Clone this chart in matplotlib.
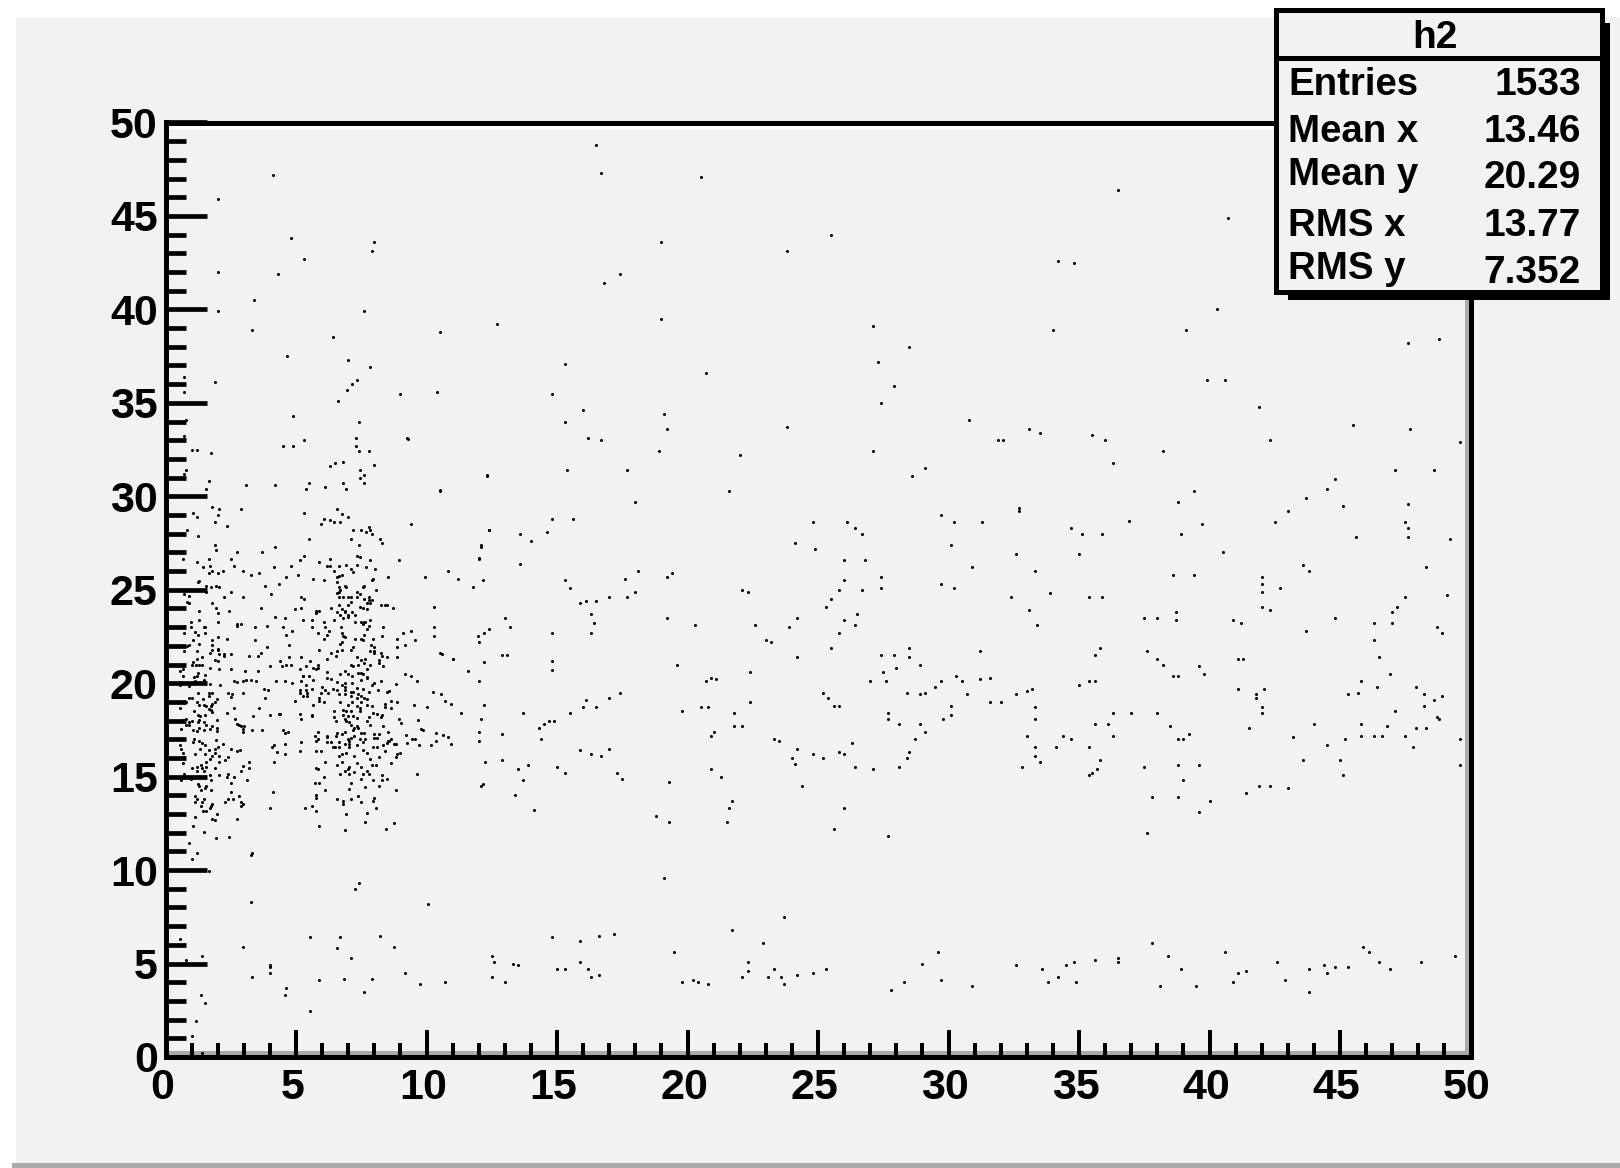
import matplotlib
matplotlib.use('Agg')
import matplotlib.pyplot as plt
from matplotlib.patches import Rectangle
from matplotlib.transforms import ScaledTranslation

# scatter points, grouped by region (x, y)
points_high = [
    (13.2,49.9),(16.5,48.8),(16.7,47.3),(20.5,47.1),(36.5,46.4),(40.7,44.9),(25.5,44.0),(19.0,43.6),(23.8,43.1),
    (34.2,42.6),(34.8,42.5),(17.4,41.9),(16.8,41.4),(40.3,40.0),(19.0,39.5),(12.7,39.2),(27.1,39.1),(39.1,38.9),
    (34.0,38.9),(10.5,38.8),(47.6,38.2),(48.8,38.4),(28.5,38.0),(15.3,37.1),(27.3,37.2),(20.7,36.6),(27.9,35.9),
    (39.9,36.2),(40.6,36.2),(27.4,35.0),(14.8,35.5),(10.4,35.6),(16.0,34.6),(41.9,34.8),(19.1,34.4),(15.3,34.0),
    (19.2,33.6),(23.8,33.7),(47.7,33.6),(45.5,33.8),(33.1,33.6),(33.5,33.4),(30.8,34.1),(31.9,33.0),(32.1,33.0),
    (35.5,33.3),(36.0,33.0),(16.2,33.1),(16.7,33.0),(42.3,33.0),(49.6,32.9),(18.9,32.4),(27.1,32.4),(22.0,32.2),
    (38.2,32.4),(36.3,31.8),(15.4,31.4),(17.7,31.4),(12.3,31.1),(28.6,31.1),(29.1,31.5),(47.1,31.4),(48.6,31.4),
    (44.8,30.9),(21.6,30.3),(10.5,30.3),(39.4,30.3),(44.5,30.4),(43.7,29.9),(38.8,29.7),(47.6,29.6),(18.0,29.7),
    (32.7,29.4),(32.7,29.2),(45.1,29.5),(29.7,29.0),(43.0,29.2),(30.2,28.6),(47.5,28.6),(47.6,28.3),(14.8,28.8),
    (15.6,28.8),(36.9,28.7),(42.5,28.6),(24.8,28.6),(26.1,28.6),(26.4,28.3),(26.7,28.0),(31.3,28.6),(39.7,28.5),
    (38.9,28.0),(34.7,28.3),(35.1,28.0),(35.9,28.0),(12.4,28.2),(13.6,28.0),(14.0,27.6),(14.6,28.1),(45.6,27.8),
    (47.6,27.8),(49.2,27.7),(30.1,27.4),(24.1,27.5),(24.9,27.2),(40.5,27.0),(35.0,26.9),(32.6,26.9),(26.0,26.6),
    (26.8,26.6),(12.1,27.4),(12.0,26.7),(13.6,26.4),(30.9,26.2),(33.3,26.0),(43.6,26.3),(43.8,26.0),(48.3,26.2),
    (18.1,26.0),(17.6,25.6),(19.4,25.9),(19.2,25.7),(39.4,25.8),(38.6,25.8),(42.0,25.7),(42.0,25.3),(15.3,25.5),
    (15.5,25.1),(29.7,25.3),(30.2,25.1),(35.4,24.6),(35.9,24.6),(27.4,25.7),(27.4,25.1),(22.1,25.0),(22.3,24.9),
    (42.0,24.9),(42.7,25.1),(26.0,25.5),(25.8,25.0),(26.7,25.0),(33.9,24.8),(32.4,24.6),(49.1,24.7),(50.0,24.5),
    (15.9,24.3),(16.1,24.4),(16.5,24.4),(17.0,24.6),(17.7,24.6),(18.0,24.9),(47.5,24.6),(47.2,24.1),(47.0,23.8),
    (25.5,24.5),(25.3,24.1),(33.1,23.9),(42.0,24.1),(42.3,23.9),(16.3,23.7),(16.4,23.2),(38.7,23.8),(38.7,23.4),
    (38.0,23.5),(26.5,23.7),(26.4,23.1),(24.2,23.5),(23.9,23.0),(22.6,23.1),(44.8,23.5),(46.3,23.2),(47.0,23.2),
    (37.5,23.5),(40.9,23.4),(41.2,23.2),(43.7,22.8),(48.7,23.0),(48.9,22.7),(16.3,22.7),(26.0,23.4),(25.8,22.7),
    (20.3,23.1),(19.2,23.5),(13.0,23.5),(13.2,23.0),(12.2,22.7),(12.0,22.2),(14.8,22.7),(33.4,23.1),(23.0,22.3),
    (23.2,22.2),(46.3,22.3),(46.5,21.4),(35.8,21.9),(35.6,21.5),(25.5,21.9),(28.5,21.9),(27.9,21.5),(27.4,21.5),
    (28.5,21.4),(37.6,21.7),(38.0,21.3),(38.2,21.0),(41.1,21.3),(41.3,21.3),(31.2,21.7),(12.9,21.5),(13.1,21.5),
    (10.5,21.6),(11.0,21.3),(14.8,21.2),(14.8,20.7),(24.2,21.4),
    (4.1,47.2),(2.0,45.9),(4.8,43.8),(5.3,42.7),(8.0,43.6),(7.9,43.1),(2.0,42.0),(4.3,41.9),(3.4,40.5),(2.0,39.9),
    (7.6,39.9),(3.3,38.9),(6.4,38.5),(4.65,37.5),(7.0,37.3),(7.85,36.9),(7.35,36.2),(7.15,36.0),(6.95,35.7),
    (6.6,35.1),(9.0,35.5),(1.9,36.1),(0.7,36.4),(0.7,35.6),(4.9,34.3),(7.4,34.0),(0.8,34.1),(9.25,33.1),
]

points_mid = [
    (19.6,21.0),(28.9,21.0),(28.0,20.8),(39.6,20.9),(39.8,20.5),(38.6,20.4),(38.8,20.4),(22.4,20.6),(31.6,20.3),
    (31.2,20.2),(30.3,20.4),(30.5,20.1),(20.7,20.1),(20.9,20.3),(21.1,20.2),(27.5,20.6),(27.6,20.1),(27.0,20.1),
    (46.9,20.5),(45.8,20.1),(45.7,19.5),(46.4,19.8),(41.1,19.7),(42.1,19.7),(41.8,19.4),(35.6,20.1),(35.4,20.1),
    (35.0,19.9),(29.7,20.1),(29.1,19.5),(29.5,19.8),(33.2,19.7),(33.0,19.6),(32.6,19.4),(31.6,19.0),(32.0,19.0),
    (30.7,19.4),(28.4,19.5),(28.9,19.4),(25.2,19.5),(25.4,19.2),(25.6,18.8),(25.8,18.8),(47.9,19.8),(48.2,19.4),
    (48.6,19.1),(48.9,19.3),(48.2,18.8),(48.7,18.2),(48.8,18.1),(47.9,17.6),(48.3,17.6),(47.1,18.5),(47.5,17.2),
    (47.8,16.6),(45.3,19.4),(45.8,17.8),(46.3,17.2),(45.8,17.2),(46.6,17.2),(46.8,17.7),(45.2,17.0),(45.0,15.9),
    (45.1,15.1),(44.0,17.8),(44.5,16.7),(41.8,19.2),(42.0,18.7),(42.0,18.4),(41.5,17.6),(43.2,17.1),(43.6,15.9),
    (41.4,14.1),(41.9,14.5),(42.3,14.5),(43.0,14.4),(37.0,18.4),(36.3,18.4),(36.1,17.8),(36.3,17.2),(35.6,17.8),
    (38.0,18.4),(38.5,17.7),(38.8,17.0),(39.0,17.0),(39.2,17.3),(33.3,18.7),(33.3,18.1),(33.0,17.2),(33.3,16.6),
    (34.4,17.2),(34.7,17.0),(34.1,16.6),(33.5,15.8),(32.8,15.5),(33.3,16.1),(35.4,15.1),(35.5,15.2),(35.7,15.4),
    (35.8,15.9),(35.4,16.6),(37.5,15.5),(38.8,15.6),(39.6,15.6),(39.0,14.8),(38.8,13.9),(39.6,13.1),(40.0,13.7),
    (37.8,13.9),(37.6,12.0),(30.1,18.8),(30.1,18.3),(29.8,18.1),(28.9,17.8),(29.1,17.4),(28.7,17.0),(27.7,18.4),
    (28.1,17.8),(27.7,18.1),(28.5,16.3),(28.4,16.0),(28.1,15.5),(27.1,15.4),(26.3,16.8),(26.0,16.2),(26.4,15.5),
    (25.2,16.0),(24.8,16.2),(25.8,16.3),(24.2,16.5),(24.0,16.0),(24.1,15.7),(24.4,14.5),(23.3,17.0),(23.5,16.9),
    (25.6,12.2),(26.0,13.3),(27.7,11.8),(21.8,18.4),(22.4,19.0),(21.8,17.7),(22.1,17.7),(20.5,18.7),(20.8,18.7),
    (21.0,17.4),(20.9,17.2),(19.8,18.5),(19.3,14.7),(20.9,15.4),(21.3,15.0),(21.7,13.7),(21.6,13.3),(21.5,12.6),
    (18.8,12.9),(19.3,12.6),(19.1,9.6),(17.4,19.5),(17.0,19.2),(16.5,18.7),(17.0,16.5),(16.7,16.1),(15.9,16.4),
    (16.3,16.2),(17.3,15.2),(17.5,14.9),(15.0,15.5),(15.3,15.2),(16.0,18.7),(15.5,18.4),(16.1,19.1),(14.7,18.0),
    (14.5,17.8),(14.3,17.6),(14.4,17.0),(14.9,18.0),(13.7,18.4),(13.9,15.6),(13.5,15.4),(13.4,14.0),(14.1,13.2),
    (13.7,14.8),(12.1,18.1),(12.0,17.4),(12.9,17.3),(12.9,15.9),(12.1,14.5),(49.6,17.0),(49.6,15.6),
]

points_low = [
    (21.7,6.8),(23.7,7.5),(22.9,6.1),(19.5,5.6),(37.8,6.1),(38.4,5.4),(40.6,5.6),(45.9,5.9),(46.1,5.6),(46.5,5.1),
    (46.9,4.7),(29.6,5.6),(29.0,5.0),(14.8,6.4),(15.9,6.2),(16.6,6.5),(17.2,6.6),(12.5,5.4),(12.6,5.1),(13.3,5.0),
    (13.5,4.9),(12.5,4.3),(13.0,4.0),(15.0,4.7),(15.3,4.7),(15.9,5.1),(16.2,4.7),(16.3,4.3),(16.6,4.4),(19.8,4.0),
    (20.2,4.1),(20.4,4.0),(20.8,3.9),(22.3,5.1),(22.1,4.3),(22.3,4.6),(23.1,4.3),(23.3,4.7),(23.6,4.3),(23.7,3.9),
    (24.2,4.4),(24.8,4.5),(25.3,4.7),(27.8,3.6),(28.3,4.0),(29.7,4.1),(30.9,3.8),(32.6,4.9),(33.6,4.7),(33.8,4.0),
    (34.2,4.3),(34.5,4.9),(34.8,5.1),(34.9,4.0),(35.6,5.2),(36.5,5.3),(36.5,5.1),(38.1,3.8),(38.9,4.7),(39.5,3.8),
    (40.9,4.0),(41.1,4.5),(41.4,4.6),(42.6,5.1),(42.9,4.1),(43.8,4.7),(43.8,3.5),(44.4,4.9),(44.5,4.5),(44.8,4.8),
    (45.3,4.8),(48.1,5.1),(49.4,5.4),(7.4,9.3),(7.26,9.0),(3.27,10.8),(3.26,8.3),(10.05,8.2),(0.55,6.3),(0.79,5.2),
    (1.4,5.4),(2.96,5.9),(5.55,6.4),(6.7,6.4),(6.58,5.85),(7.1,5.3),(8.2,6.45),(8.76,5.9),(4.0,4.9),(4.0,4.8),
    (4.0,4.5),(3.3,4.3),(5.9,4.1),(6.85,4.2),(7.9,4.2),(4.6,3.7),(4.57,3.3),(7.6,3.5),(5.55,2.45),(1.35,3.3),
    (1.5,2.9),(1.15,1.9),(1.0,1.15),(1.4,0.2),(9.16,4.5),(9.75,3.9),(10.7,4.0),
    (1.93,11.7),(2.44,11.78),(0.89,11.47),(1.19,10.9),(3.31,10.9),(1.01,10.58),(1.65,9.94),
]

# dense cloud at small x, upper half (y about 20 to 33)
points_dense_upper = [
    (0.7,33.2),(1.0,32.5),(1.2,32.5),(1.75,32.3),(4.5,32.7),(4.9,32.7),(5.3,33.0),(7.3,33.1),(7.3,32.7),(7.4,32.4),
    (7.8,32.4),(9.3,33.05),(6.3,31.6),(6.5,31.8),(6.8,31.85),(8.0,31.7),(7.45,31.4),(7.6,31.15),(7.45,31.0),
    (0.78,31.4),(0.72,31.2),(12.3,31.15),(1.65,30.8),(3.1,30.6),(4.2,30.6),(5.5,30.7),(5.4,30.4),(6.1,30.5),(6.8,30.7),
    (6.9,30.4),(7.6,30.7),(1.57,30.4),(10.5,30.35),(1.8,29.45),(2.04,29.3),(2.0,29.0),(1.06,29.1),(1.19,28.9),(1.9,28.6),
    (2.34,28.4),(2.9,29.3),(5.3,29.1),(6.58,29.3),(6.75,29.05),(7.0,28.9),(6.07,28.8),(6.3,28.75),(6.46,28.65),(6.7,28.65),
    (5.95,28.5),(9.4,28.5),(7.78,28.35),(7.84,28.2),(7.7,28.1),(7.9,28.0),(7.5,28.2),(7.2,28.2),(0.83,28.2),(1.24,27.9),
    (12.4,28.2),(5.5,27.7),(7.1,27.7),(8.2,27.7),(8.3,27.5),(7.4,27.4),(1.9,27.4),(1.93,27.15),(4.2,27.3),(2.73,27.0),
    (3.7,27.0),(12.07,27.3),(5.3,26.8),(5.15,26.6),(6.3,26.65),(5.9,26.5),(7.33,26.8),(7.45,26.75),(7.84,26.6),(8.93,26.6),
    (12.03,26.65),(0.68,26.65),(1.19,26.5),(1.65,26.65),(2.5,26.65),(1.45,26.2),(1.7,26.25),(1.8,26.0),(2.2,26.0),(1.65,25.9),
    (2.0,25.9),(2.62,26.25),(2.96,26.0),(3.26,25.8),(3.6,25.9),(4.16,26.2),(4.8,26.25),(4.6,25.7),(5.08,25.8),(5.65,25.6),
    (6.17,26.25),(6.32,26.25),(6.64,26.25),(6.92,26.35),(7.33,26.35),(6.46,26.0),(7.1,26.1),(7.2,25.95),(7.67,26.2),(8.02,26.1),
    (10.83,26.0),(6.64,25.75),(6.77,25.8),(6.58,25.7),(7.94,25.6),(7.9,25.5),(8.53,25.7),(9.96,25.7),(11.2,25.55),(12.16,25.5),
    (6.07,25.5),(6.58,25.4),(1.3,25.45),(1.24,25.4),(1.57,25.2),(1.75,25.15),(1.93,25.2),(2.04,25.15),(1.57,24.9),(3.82,25.2),
    (4.33,25.3),(2.5,24.9),(4.05,24.75),(2.26,24.6),(2.96,24.6),(11.79,25.15),(6.64,25.15),(6.88,25.2),(6.92,25.15),(7.61,25.2),
    (7.55,25.15),(8.07,25.0),(6.7,25.0),(6.64,24.9),(6.58,24.8),(7.33,24.9),(7.45,24.75),(0.72,24.75),(0.9,24.67),(0.83,24.35),
    (0.9,24.3),(5.2,24.6),(5.3,24.5),(6.64,24.6),(6.8,24.6),(7.0,24.6),(7.1,24.6),(7.33,24.6),(7.61,24.5),(7.78,24.6),
    (7.78,24.45),(7.9,24.45),(7.73,24.3),(7.84,24.3),(7.1,24.35),(7.0,24.2),(6.64,24.2),(7.45,24.1),(7.56,24.0),(7.73,23.95),
    (8.24,24.2),(8.42,24.2),(8.47,24.2),(8.71,24.0),(10.3,24.1),(1.8,24.3),(1.93,24.0),(1.3,23.85),(2.0,23.75),(2.44,23.85),
    (3.64,24.0),(4.97,23.95),(5.2,24.0),(5.76,23.85),(5.9,23.85),(5.76,23.75),(6.33,24.0),(6.76,23.95),(6.87,23.85),(6.59,23.8),
    (6.7,23.65),(6.87,23.8),(7.0,23.65),(7.15,23.8),(7.0,23.55),(7.27,23.65),(6.8,23.5),(4.2,23.55),(4.57,23.5),(5.27,23.4),
    (5.6,23.4),(6.07,23.3),(6.46,23.4),(7.27,23.3),(7.84,23.4),(7.5,23.25),(7.61,23.25),(7.66,23.25),(7.56,23.15),(7.78,23.05),
    (7.73,22.9),(0.96,23.3),(1.3,23.4),(2.0,23.25),(2.73,23.15),(2.9,23.15),(2.73,23.05),(0.96,23.0),(1.47,23.0),(1.52,23.0),
    (3.42,23.0),(3.88,23.05),(4.5,23.0),(5.6,23.0),(6.12,23.0),(6.28,22.8),(6.74,23.0),(0.72,22.7),(1.14,22.75),(1.24,22.6),
    (1.52,22.7),(4.85,22.8),(4.62,22.6),(5.84,22.7),(6.18,22.6),(6.76,22.7),(6.8,22.5),(6.87,22.45),(8.35,23.0),(8.3,22.5),
    (9.09,22.7),(9.39,22.8),(10.3,23.0),(10.3,22.5),(12.4,22.9),(11.98,22.5),(2.0,22.45),(2.34,22.35),(1.8,22.3),(1.06,22.3),
    (1.3,22.1),(1.8,22.05),(0.9,22.05),(0.83,21.98),(3.42,22.3),(4.75,22.05),(3.88,21.95),(6.07,22.35),(6.76,22.2),(6.7,22.1),
    (7.5,22.35),(7.56,22.3),(7.27,22.35),(7.61,22.6),(7.96,22.35),(8.88,22.35),(9.57,22.3),(7.88,22.05),(8.0,21.95),(7.2,21.95),
    (7.09,21.8),(8.88,21.95),(9.16,22.05),(0.72,21.7),(1.19,21.7),(2.0,21.85),(1.8,21.8),(1.7,21.6),(2.0,21.8),(2.26,21.55),
    (2.5,21.55),(2.26,21.47),(2.04,21.55),(3.2,21.47),(3.54,21.47),(3.64,21.6),(5.9,21.8),(6.35,21.6),(6.53,21.47),(6.76,21.8),
    (6.59,21.7),(7.85,21.7),(8.0,21.7),(8.0,21.6),(8.24,21.6),(8.3,21.47),(10.6,21.55),(1.4,21.4),(1.19,21.3),(1.06,21.15),
    (1.02,21.0),(1.16,20.95),(1.3,21.0),(1.4,20.95),(1.88,21.25),(2.0,21.2),(2.04,20.75),(1.7,20.8),(2.5,20.75),(0.55,20.65),
    (0.66,20.75),(0.66,20.4),(1.09,20.35),(1.19,20.4),(3.03,20.65),(3.54,20.65),(4.0,20.9),(4.4,21.2),(4.46,20.9),(4.62,21.0),
    (4.75,21.4),(4.8,21.0),(5.2,21.4),(5.38,20.9),(5.15,20.75),(5.54,21.2),(5.66,20.8),(5.76,20.75),(5.84,21.0),(5.84,20.8),
    (6.18,21.3),(6.18,20.6),(5.49,20.4),(5.26,20.4),(6.7,20.5),(6.87,20.65),(7.0,20.5),(7.1,21.0),(7.15,20.4),(7.2,20.9),
    (7.33,21.4),(7.38,21.0),(7.5,21.25),(7.66,21.3),(7.61,21.1),(7.73,20.75),(7.84,21.0),(7.5,20.55),(7.38,20.55),(7.56,20.5),
    (7.71,20.35),(8.19,21.25),(8.19,21.1),(8.35,20.9),(8.47,21.4),(8.88,21.4),(9.16,20.5),(9.39,20.4),(11.58,20.65),(12.2,21.15),
    (11.0,21.3),
]

# dense cloud at small x, lower half (y about 12 to 20.5)
points_dense_lower = [
    (1.52,20.46),(1.24,20.55),(0.55,19.9),(0.9,19.84),(1.14,20.1),(1.47,20.15),(1.52,20.05),(1.7,19.98),(2.09,19.9),(2.62,20.1),
    (2.73,20.05),(2.96,20.1),(3.08,20.17),(3.26,20.17),(3.47,20.1),(4.22,20.1),(4.57,20.1),(4.85,20.0),(5.2,20.1),(5.38,19.9),
    (5.66,20.17),(5.26,20.4),(6.18,20.3),(6.35,20.25),(6.59,20.05),(6.87,20.0),(6.76,19.9),(6.87,19.82),(7.15,20.0),(7.5,20.17),
    (7.73,20.3),(7.9,19.9),(8.0,20.0),(8.24,20.1),(8.82,19.94),(9.62,20.1),(12.03,20.1),(1.24,19.48),(1.65,19.48),(1.65,19.3),
    (1.8,19.48),(2.39,19.48),(2.55,19.4),(2.5,19.27),(2.96,19.48),(3.77,19.7),(3.93,19.62),(3.82,19.23),(5.15,19.66),(5.15,19.48),
    (5.38,19.66),(5.6,19.7),(5.43,19.48),(5.26,19.3),(5.43,19.3),(6.0,19.78),(5.95,19.48),(5.89,19.2),(6.12,19.62),(6.23,19.48),
    (6.41,19.7),(6.59,19.66),(6.64,19.4),(6.87,19.62),(6.87,19.4),(7.1,19.53),(7.2,19.53),(7.1,19.3),(7.33,19.75),(7.38,19.4),
    (7.33,19.23),(7.56,19.7),(7.5,19.3),(7.61,19.23),(7.73,19.16),(7.78,19.53),(8.14,19.62),(8.47,19.53),(8.58,19.57),(10.25,19.53),
    (10.54,19.4),(10.7,19.07),(10.93,18.9),(0.9,19.23),(1.02,19.23),(1.42,19.16),(1.99,19.13),(1.88,19.0),(1.8,18.9),(1.75,18.77),
    (1.65,18.63),(1.57,18.77),(1.47,18.86),(1.19,19.0),(1.3,18.86),(0.55,18.66),(0.77,19.0),(5.88,19.04),(6.07,19.0),(6.7,19.0),
    (7.0,18.86),(7.15,19.0),(7.5,19.0),(7.73,18.86),(7.9,18.77),(7.45,18.68),(7.33,18.77),(8.42,18.9),(8.65,19.07),(8.88,19.0),
    (8.42,18.73),(8.65,18.66),(9.51,18.84),(10.0,18.73),(12.2,18.84),(4.97,19.07),(5.66,18.84),(1.1,18.5),(1.24,18.32),(1.34,18.27),
    (1.52,18.32),(1.8,18.45),(1.75,18.59),(2.34,18.41),(2.62,18.66),(3.59,18.66),(3.37,18.27),(4.0,18.32),(4.33,18.34),(4.39,18.34),
    (5.15,18.34),(5.2,18.11),(5.6,18.32),(5.6,18.25),(6.45,18.5),(6.8,18.57),(6.92,18.5),(7.09,18.5),(7.45,18.5),(7.96,18.41),
    (8.12,18.34),(8.3,18.32),(8.24,18.18),(6.8,18.32),(7.0,18.27),(7.2,18.24),(7.33,18.15),(6.45,18.2),(6.53,17.97),(6.87,18.09),
    (7.78,18.2),(6.92,18.0),(7.04,17.93),(7.73,18.0),(7.84,17.79),(8.93,18.09),(9.04,17.88),(11.33,18.41),(9.67,18.02),(0.77,18.09),
    (0.66,18.02),(0.9,17.93),(1.02,17.97),(1.3,18.02),(1.24,17.93),(1.47,17.91),(1.57,17.79),(1.99,18.02),(2.67,18.09),(2.73,17.84),
    (2.8,17.75),(2.9,17.7),(3.01,17.7),(0.61,17.56),(0.9,17.75),(0.77,17.79),(1.06,17.49),(1.19,17.43),(1.3,17.61),(1.47,17.49),
    (1.7,17.56),(1.8,17.7),(1.99,17.61),(1.99,17.43),(2.96,17.56),(2.96,17.4),(3.31,17.47),(3.7,17.52),(4.5,17.47),(4.7,17.38),
    (4.57,17.31),(7.09,17.79),(7.22,17.61),(7.38,17.61),(7.33,17.7),(8.35,17.7),(8.53,17.4),(7.2,17.49),(7.5,17.31),(7.61,17.31),
    (8.0,17.26),(8.19,17.26),(8.12,17.08),(8.0,17.08),(5.84,17.4),(5.71,17.17),(5.84,17.0),(5.77,16.9),(6.18,17.2),(6.18,17.11),
    (6.59,17.31),(6.53,17.2),(6.87,17.4),(6.76,17.26),(7.0,17.0),(7.1,17.08),(7.22,17.17),(7.45,17.0),(7.66,17.0),(9.21,17.22),
    (9.78,17.56),(9.85,17.49),(10.37,17.31),(10.65,17.22),(10.83,17.13),(10.36,16.9),(9.46,17.0),(9.57,17.0),(9.27,16.81),(8.65,17.0),
    (8.53,16.9),(8.47,16.81),(1.1,17.02),(1.06,16.85),(1.3,16.9),(1.4,16.81),(1.52,16.72),(1.93,16.94),(2.21,16.74),(0.55,16.67),
    (0.61,16.5),(0.66,16.28),(2.03,16.56),(1.88,16.49),(1.65,16.42),(1.34,16.49),(2.5,16.49),(2.85,16.42),(2.73,16.35),(4.07,16.58),
    (4.16,16.67),(4.57,16.74),(5.2,16.83),(6.18,16.83),(6.35,16.83),(6.41,16.58),(6.48,16.58),(6.64,16.58),(6.64,16.83),(6.87,16.74),
    (7.04,16.9),(7.04,16.74),(7.04,16.58),(7.33,16.67),(7.56,16.83),(7.96,16.58),(8.12,16.58),(8.35,16.67),(8.58,16.9),(8.76,16.74),
    (8.82,16.74),(9.73,16.67),(10.19,16.67),(10.93,16.74),(12.03,16.9),(7.56,16.42),(7.73,16.26),(8.4,16.35),(8.99,16.26),(8.88,16.19),
    (8.82,16.03),(1.14,16.19),(1.52,16.19),(1.88,16.28),(1.8,16.1),(1.7,15.97),(2.04,16.12),(2.39,16.03),(2.27,15.87),(2.04,15.8),
    (1.57,15.8),(0.66,15.74),(0.72,16.03),(4.28,16.33),(4.57,16.19),(5.15,16.35),(5.77,16.35),(5.95,16.35),(6.76,16.19),(6.64,16.1),
    (6.92,16.26),(7.22,16.1),(7.84,15.96),(8.19,16.03),(6.76,15.8),(6.12,15.8),(7.33,15.71),(7.5,15.53),(7.9,15.62),(8.07,15.62),
    (8.65,15.71),(6.58,15.62),(4.16,15.78),(3.19,15.8),(12.26,15.8),(1.37,15.62),(1.19,15.53),(1.02,15.46),(1.4,15.46),(1.57,15.53),
    (1.88,15.48),(2.96,15.55),(2.9,15.3),(3.19,15.46),(1.19,15.3),(1.47,15.3),(5.77,15.46),(5.84,15.39),(7.04,15.53),(6.99,15.39),
    (6.87,15.3),(7.04,15.16),(7.22,15.23),(6.7,15.16),(7.56,15.16),(7.73,15.3),(7.78,15.16),(7.5,14.9),(8.3,15.07),(8.47,14.9),
    (8.3,14.82),(7.96,14.82),(9.62,15.16),(0.72,15.16),(0.61,14.82),(0.96,14.9),(1.7,15.09),(1.75,14.82),(2.04,15.07),(2.39,15.16),
    (2.34,15.0),(2.62,15.0),(3.13,14.82),(2.5,14.66),(1.25,14.59),(1.3,14.5),(1.57,14.5),(1.52,14.41),(1.37,14.27),(1.75,14.27),
    (2.5,14.2),(6.07,15.0),(5.71,14.66),(5.89,14.66),(7.09,14.66),(7.04,14.36),(7.66,14.43),(8.19,14.5),(6.12,14.27),(8.82,14.27),
    (4.11,14.2),(12.16,14.59),(1.14,13.96),(1.19,13.79),(1.14,13.63),(1.46,13.79),(1.4,13.63),(1.37,13.41),(1.42,13.16),(1.57,13.16),
    (1.8,13.54),(1.75,13.41),(1.7,13.3),(2.27,13.63),(2.39,13.79),(2.57,13.79),(2.8,13.95),(2.9,13.63),(2.96,13.54),(2.9,13.41),
    (5.77,14.02),(5.77,13.88),(6.58,13.79),(6.8,13.7),(6.8,13.54),(7.09,13.79),(7.38,13.95),(7.5,13.63),(8.0,13.88),(7.96,13.7),
    (8.07,13.3),(4.0,13.3),(5.33,13.3),(5.6,13.41),(5.77,13.16),(6.92,12.99),(7.73,13.07),(1.14,12.83),(1.99,12.99),(1.8,12.74),
    (1.88,12.67),(2.73,12.74),(1.07,12.36),(7.66,12.58),(8.76,12.5),(5.87,12.36),(6.86,12.13),(8.45,12.2),(1.47,12.04),
]

tick_values = [0, 5, 10, 15, 20, 25, 30, 35, 40, 45, 50]
minor_values = [v for v in range(0, 51) if v % 5 != 0]

stats_title = 'h2'
stats_names = ['Entries', 'Mean x', 'Mean y', 'RMS x', 'RMS y']
stats_values = ['1533', '13.46', '20.29', '13.77', '7.352']

W, H = 1620, 1168
BG = '#f2f2f2'
plt.rcParams['font.family'] = ['Liberation Sans', 'DejaVu Sans']
plt.rcParams['font.weight'] = 'bold'


def fx(px):
    return px / W


def fy(py):
    return 1 - py / H


def lw(px):
    return px * 72 / 100


fig = plt.figure(figsize=(W / 100, H / 100), dpi=100, facecolor='white')

# pad with bevel
fig.add_artist(Rectangle((fx(16), 0), fx(1604), 1151 / H, transform=fig.transFigure, fc=BG, ec='none', zorder=-5))
fig.add_artist(Rectangle((fx(12), 0), fx(1608), 5 / H, transform=fig.transFigure, fc='#aaaaaa', ec='none', zorder=-4))

left, right, top, bottom = 165.5, 1470.5, 122.5, 1057
ax = fig.add_axes([fx(left), fy(bottom), fx(right - left), (bottom - top) / H])
ax.set_facecolor(BG)
ax.set_xlim(0, 50)
ax.set_ylim(0, 50)

for name in ['top', 'left', 'bottom', 'right']:
    ax.spines[name].set_linewidth(lw(5))
    ax.spines[name].set_color('black')

# frame bevel, white top and left, gray bottom and right
sx = 6 / (right - left)
sy = 6 / (bottom - top)
ax.add_patch(Rectangle((0, 1 - sy), 1, sy, transform=ax.transAxes, fc='white', ec='none', zorder=0.5))
ax.add_patch(Rectangle((0, 0), sx * 0.6, 1, transform=ax.transAxes, fc='white', ec='none', zorder=0.5))
ax.add_patch(Rectangle((1 - sx, 0), sx, 1, transform=ax.transAxes, fc='#aaaaaa', ec='none', zorder=0.6))
ax.add_patch(Rectangle((0, 0), 1, sy, transform=ax.transAxes, fc='#aaaaaa', ec='none', zorder=0.6))

ax.set_xticks(tick_values)
ax.set_yticks(tick_values)
ax.set_xticks(minor_values, minor=True)
ax.set_yticks(minor_values, minor=True)
ax.tick_params(axis='x', which='major', direction='in', length=lw(27), width=lw(4), pad=8, labelsize=31)
ax.tick_params(axis='x', which='minor', direction='in', length=lw(14), width=lw(4))
ax.tick_params(axis='y', which='major', direction='in', length=lw(41), width=lw(4.7), pad=5.5, labelsize=31)
ax.tick_params(axis='y', which='minor', direction='in', length=lw(20), width=lw(4.7))

# x labels sit a little left of their ticks in the original
shift = ScaledTranslation(-3.5 / 100, 0, fig.dpi_scale_trans)
for label in ax.get_xticklabels():
    label.set_transform(label.get_transform() + shift)

all_points = points_high + points_mid + points_low + points_dense_upper + points_dense_lower
xs = [p[0] for p in all_points]
ys = [p[1] for p in all_points]
ax.plot(xs, ys, linestyle='none', marker='o', ms=2.2, mew=0, color='black', clip_on=False, zorder=5)

# stats box
fig.add_artist(Rectangle((fx(1288), fy(300)), fx(322), 277 / H, transform=fig.transFigure, fc='black', ec='none', zorder=10))
fig.add_artist(Rectangle((fx(1276), fy(292)), fx(326), 282 / H, transform=fig.transFigure, fc=BG, ec='black', lw=lw(5), zorder=11))
fig.add_artist(plt.Line2D([fx(1276), fx(1602)], [fy(58), fy(58)], transform=fig.transFigure, color='black', lw=lw(5), zorder=12))
fig.text(fx(1435), fy(48), stats_title, ha='center', va='baseline', fontsize=28, fontweight='bold', zorder=13)
name_base = [95, 142, 185, 236, 279]
value_base = [95, 142, 188, 236, 283]
for name, value, nb, vb in zip(stats_names, stats_values, name_base, value_base):
    fig.text(fx(1288), fy(nb), name, ha='left', va='baseline', fontsize=27.6, fontweight='bold', zorder=13)
    fig.text(fx(1581), fy(vb), value, ha='right', va='baseline', fontsize=28, fontweight='bold', zorder=13)

fig.savefig('out.png', dpi=100, facecolor=fig.get_facecolor())
